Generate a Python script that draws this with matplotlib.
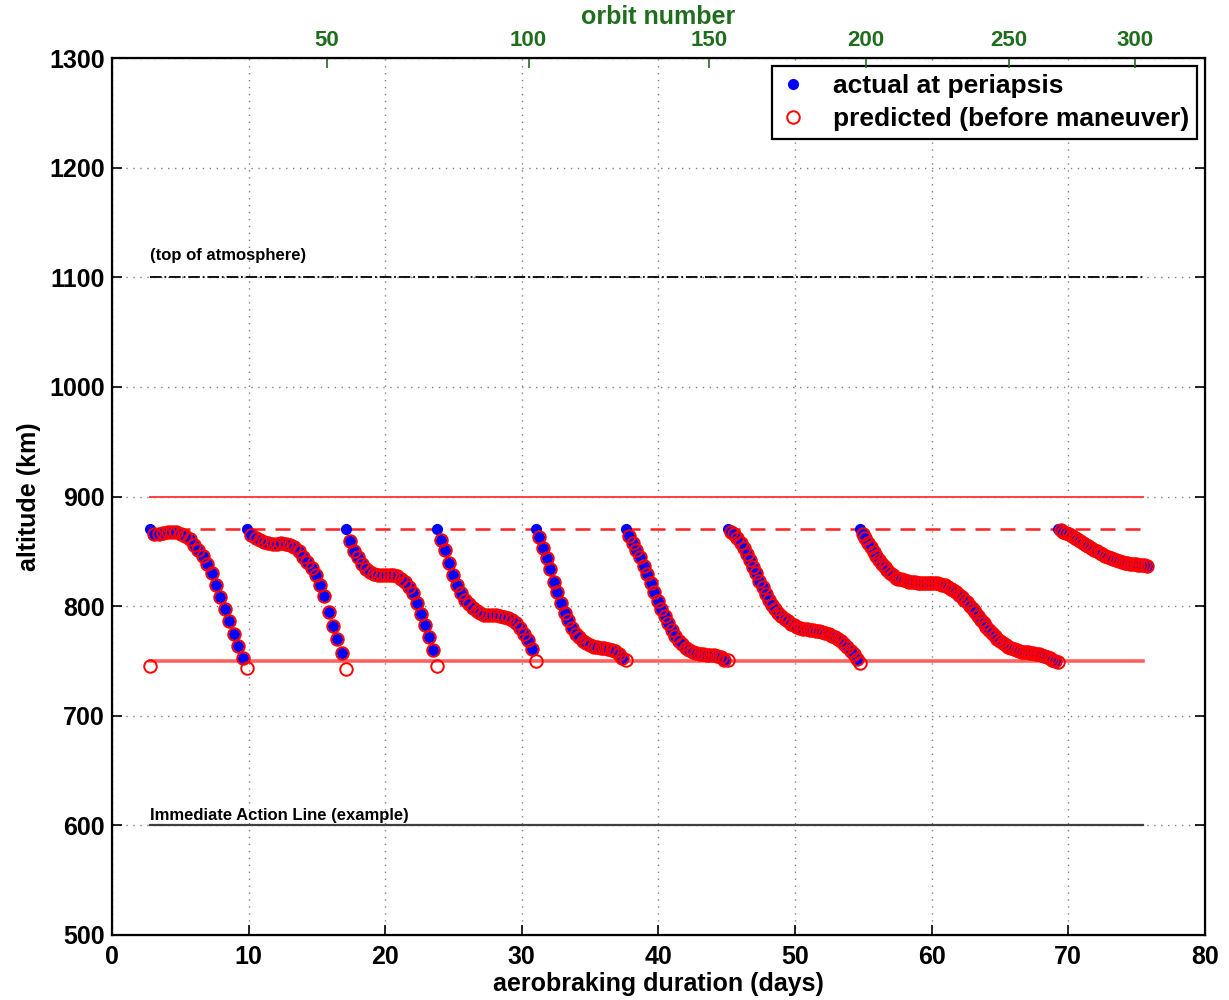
import matplotlib.pyplot as plt
import numpy as np

plt.rcParams['font.family'] = ['Liberation Sans', 'DejaVu Sans']
plt.rcParams['font.weight'] = 'bold'
plt.rcParams['axes.labelweight'] = 'bold'

# day of each periapsis-raise maneuver (last entry closes the final walk-in)
seg_starts = [2.78, 9.88, 17.13, 23.79, 31.03, 37.62, 45.09, 54.75, 69.24, 75.95]

# periapsis altitude (km), one value per orbit, for each walk-in segment
seg1 = [870, 866, 865.5, 866.5, 867.5, 868, 867.5, 866, 864, 861,
        856, 851, 846, 838, 830, 819, 808, 797, 786, 775, 764, 753]
seg2 = [870, 865, 862, 860, 858.5, 857.5, 857, 857, 857.5, 857,
        856, 854, 850, 845, 840, 835, 828, 819, 809, 795, 782, 770, 757]
seg3 = [870, 859, 850, 845, 838, 834, 831, 829.5, 828.5, 828.5,
        828.5, 828.5, 828, 827.5, 825, 822, 817, 812, 803, 793, 783, 772, 760]
seg4 = [870, 860, 851, 839, 828, 819, 812, 806, 802, 798.5,
        796, 793.5, 792, 791.5, 791.5, 791.5, 791, 790.5, 789.5, 787.5,
        784.5, 780, 774.5, 769.5, 761]
seg5 = [870, 863, 853, 844, 834, 822, 813, 802.5, 794, 787.5,
        780.5, 775, 771.5, 768, 766, 764.5, 763, 762.5, 762, 761.8,
        761.2, 760, 759, 756.5, 752.5]
seg6 = [870, 864, 858, 851, 845, 837, 829, 821, 813, 805,
        797.5, 791, 784.5, 778, 773, 768.5, 765, 762, 760, 758.5,
        757, 756.5, 756, 755.5, 755, 755, 754.5, 753.5, 751]
seg7 = [870, 868, 865.5, 862, 858, 853, 848, 842, 836, 830,
        823, 817, 811.5, 806, 801, 797, 794, 791, 788.5, 786,
        784, 782.5, 781, 780, 779.5, 779, 778.5, 778, 777.5, 777,
        776.5, 775.5, 774.5, 773, 771.5, 770, 768, 765.5, 762.5, 759,
        756, 752]
seg8 = [870, 866, 862, 857.5, 853.5, 849, 845.5, 842, 838.5, 835.5,
        832.5, 830.5, 828, 826, 825, 824.5, 823.5, 823, 822, 822,
        822, 821.5, 821.5, 821.5, 821.5, 821.5, 821, 821, 821, 820,
        819.5, 819, 817.5, 816, 814.5, 813, 810.5, 808.5, 806, 803.5,
        800.5, 797.5, 794.5, 791, 787.5, 784.5, 781, 778.5, 775.5, 772.5,
        770, 768, 766, 764.5, 763, 762, 761, 760, 759, 758.5,
        758, 758, 757.5, 757, 756.5, 756, 755, 754.5, 754, 752.5,
        751, 749.5]
seg9 = [870, 869, 867.5, 866.5, 865.5, 864, 862.5, 861, 859, 857.5,
        856, 854.5, 853, 851.5, 850, 848.5, 847.5, 846, 845, 844,
        843, 842, 841, 840.5, 839.5, 839, 838.5, 838, 838, 837.5,
        837.5, 837.5, 837]
segments = [seg1, seg2, seg3, seg4, seg5, seg6, seg7, seg8, seg9]

# predicted periapsis altitude on the orbit of each maneuver
pred_before = [745, 744, 743, 745, 750, 751, 751, 748, 749]

orbit_labels = [50, 100, 150, 200, 250, 300]
orbit_days = [15.72, 30.49, 43.73, 55.19, 65.68, 74.88]

line_x = [2.78, 75.5]
top_atm = 1100
corridor_hi, corridor_target, corridor_lo = 900, 870, 750
action_line = 600

days, actual, predicted = [], [], []
for k, seg in enumerate(segments):
    t = np.linspace(seg_starts[k], seg_starts[k + 1], len(seg), endpoint=False)
    days.extend(t)
    actual.extend(seg)
    p = list(seg)
    p[0] = pred_before[k]
    predicted.extend(p)

green = '#1e6e1e'

fig = plt.figure(figsize=(12.29, 10), dpi=100)
ax = fig.add_axes([0.0911, 0.065, 0.8893, 0.877])

ax.plot(line_x, [top_atm] * 2, color='black', ls='-.', lw=1.3)
ax.plot(line_x, [corridor_hi] * 2, color='#ff4040', lw=1.4)
ax.plot(line_x, [corridor_target] * 2, color='#ff2020', ls=(0, (6, 4)), lw=1.8)
ax.plot(line_x, [corridor_lo] * 2, color='#ff6060', lw=2.6)
ax.plot(line_x, [action_line] * 2, color='0.25', lw=1.6)

ax.text(2.8, 1113, '(top of atmosphere)', fontsize=12, va='bottom')
ax.text(2.8, 602, 'Immediate Action Line (example)', fontsize=12, va='bottom')

ax.plot(days, actual, 'o', color='blue', ms=7, mec='blue', zorder=3,
        label='actual at periapsis')
ax.plot(days, predicted, 'o', mfc='none', mec='red', ms=9, mew=1.4,
        zorder=4, label='predicted (before maneuver)')

ax.set_xlim(0, 80)
ax.set_ylim(500, 1300)
ax.set_xticks(range(0, 81, 10))
ax.set_yticks(range(500, 1301, 100))
ax.grid(True, color='0.5', ls=(0, (1, 4)), lw=1)
ax.tick_params(direction='in', length=7, width=1.2, labelsize=18,
               top=True, right=True)
ax.tick_params(axis='x', pad=7)
ax.tick_params(axis='y', pad=5)
for s in ax.spines.values():
    s.set_linewidth(1.6)
ax.set_xlabel('aerobraking duration (days)', fontsize=18, labelpad=2)
ax.set_ylabel('altitude (km)', fontsize=18, labelpad=6)

leg = ax.legend(loc='upper right', fontsize=19, fancybox=False,
                edgecolor='black', framealpha=1, borderaxespad=0.3,
                handlelength=1.0, handletextpad=1.0, borderpad=0.3,
                labelspacing=0.35)
leg.get_frame().set_linewidth(1.6)

top = ax.twiny()
top.set_xlim(ax.get_xlim())
top.set_xticks(orbit_days)
top.set_xticklabels([str(o) for o in orbit_labels])
top.tick_params(direction='in', length=7, width=1.2, labelsize=16,
                colors=green, pad=5)
top.spines['top'].set_color('black')
top.set_xlabel('orbit number', fontsize=18, color=green, labelpad=4)

fig.savefig('out.png', dpi=100)
